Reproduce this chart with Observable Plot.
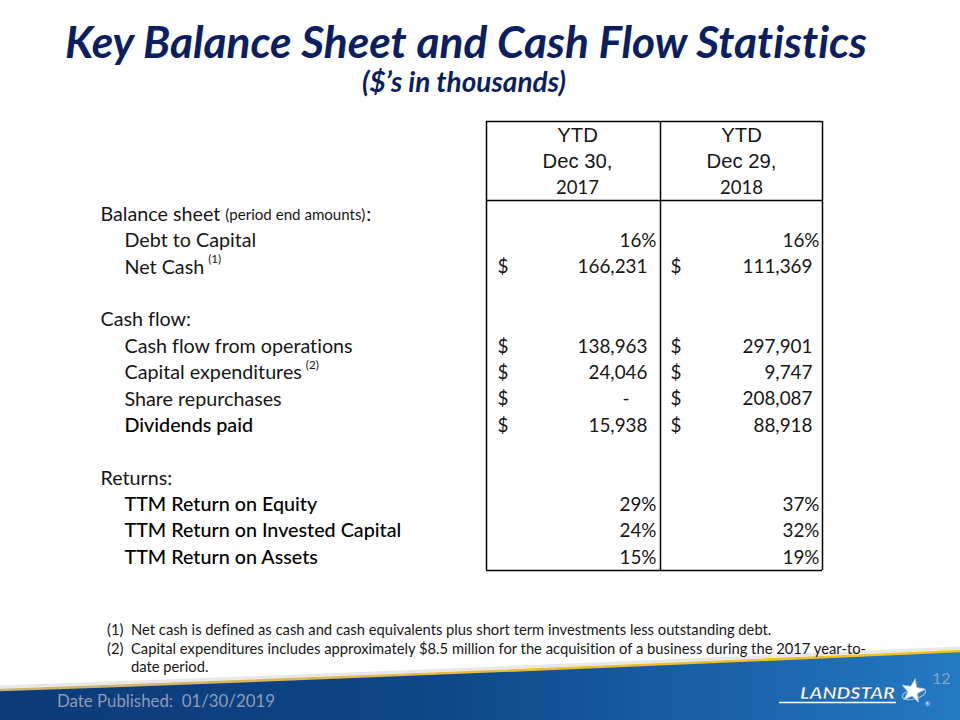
<!DOCTYPE html>
<html><head><meta charset="utf-8">
<script src="https://cdn.jsdelivr.net/npm/d3@7"></script>
<script src="https://cdn.jsdelivr.net/npm/@observablehq/plot@0.6"></script>
<style>
html,body{margin:0;padding:0;background:#fff;}
#slide{position:relative;width:960px;height:720px;overflow:hidden;background:#fff;}
#slide text{white-space:pre;}
</style></head><body>
<div id="slide"></div>
<script>
// ---------------- DATA ----------------
const title = "Key Balance Sheet and Cash Flow Statistics";
const subtitle = "($’s in thousands)";
const columnHeaders = [["YTD", "Dec 30,", "2017"], ["YTD", "Dec 29,", "2018"]];
const rowLabels = ["Balance sheet", "Debt to Capital", "Net Cash", "", "Cash flow:", "Cash flow from operations",
  "Capital expenditures", "Share repurchases", "Dividends paid", "", "Returns:", "TTM Return on Equity",
  "TTM Return on Invested Capital", "TTM Return on Assets"];
const rowLevel = [0, 1, 1, 0, 0, 1, 1, 1, 1, 0, 0, 1, 1, 1];
const rowQualifier = ["(period end amounts)", "", "", "", "", "", "", "", "", "", "", "", "", ""];
const rowNotes = ["", "", "(1)", "", "", "", "(2)", "", "", "", "", "", "", ""];
const rowKind = ["head", "pct", "usd", "blank", "head", "usd", "usd", "usd", "usd", "blank", "head", "pct", "pct", "pct"];
const values2017 = [null, 0.16, 166231, null, null, 138963, 24046, 0, 15938, null, null, 0.29, 0.24, 0.15];
const values2018 = [null, 0.16, 111369, null, null, 297901, 9747, 208087, 88918, null, null, 0.37, 0.32, 0.19];
const footnoteMarks = ["(1)", "(2)", ""];
const footnoteLines = [
  "Net cash is defined as cash and cash equivalents plus short term investments less outstanding debt.",
  "Capital expenditures includes approximately $8.5 million for the acquisition of a business during the 2017 year-to-",
  "date period."
];
const datePublished = "Date Published:  01/30/2019";
const pageNumber = "12";
const logoText = "LANDSTAR";

// ---------------- LAYOUT / STYLE ----------------
const NAVY = "#0b1f60";
const INK = "#161616";
const LF = "Lato";
const L = {
  label: [100, 124], box: [486, 660, 822], colCenter: [577, 741],
  dollar: [497, 670], usdEnd: [647, 812], pctEnd: [656, 819], dashEnd: [629, 794],
  rowTop: -0.53, headerLine: 2.46, rowBottom: 16.49
};
const emphasized = new Set(["Dividends paid", "TTM Return on Equity", "TTM Return on Invested Capital", "TTM Return on Assets"]);

const ctx = document.createElement("canvas").getContext("2d");
const measure = (t, font) => { ctx.font = font; return ctx.measureText(t).width; };
const fitSize = (t, ws, fam, target) => 100 * target / measure(t, `${ws} 100px ${fam}`);

const labelSize = fitSize("Cash flow from operations", "normal", LF, 229);
const valueSize = fitSize("166,231", "normal", LF, 70);
const qualSize = fitSize("(period end amounts)", "normal", LF, 140);
const noteSize = fitSize("(1)", "normal", LF, 13);
const hdrArialSize = fitSize("Dec 30,", "normal", "Liberation Sans", 70);
const hdrYearSize = fitSize("2017", "normal", LF, 43);
const titleSize = fitSize(title, "italic bold", LF, 803);
const subSize = fitSize(subtitle, "italic bold", LF, 204);
const footSize = fitSize(footnoteLines[1], "normal", LF, 737);
const dateSize = fitSize(datePublished, "normal", LF, 218);

const slide = document.getElementById("slide");

// ---------------- BACKGROUND, TITLE, FOOTNOTES ----------------
const bg = d3.select(slide).append("svg").attr("width", 960).attr("height", 720)
  .style("position", "absolute").style("left", 0).style("top", 0);
const txt = (x, y, font, fill, t) => bg.append("text").attr("x", x).attr("y", y)
  .style("font", font).style("font-variant-ligatures", "none").style("white-space", "pre").attr("fill", fill).text(t);
const defs = bg.append("defs");
const gb = defs.append("linearGradient").attr("id", "band").attr("x1", 0).attr("x2", 1).attr("y1", 0).attr("y2", 0);
gb.append("stop").attr("offset", 0).attr("stop-color", "#0c3a78");
gb.append("stop").attr("offset", 0.45).attr("stop-color", "#0e4688");
gb.append("stop").attr("offset", 1).attr("stop-color", "#2379c2");
const gg = defs.append("linearGradient").attr("id", "gold").attr("x1", 0).attr("x2", 1).attr("y1", 0).attr("y2", 0);
gg.append("stop").attr("offset", 0).attr("stop-color", "#c9b27a");
gg.append("stop").attr("offset", 0.5).attr("stop-color", "#e7bd35");
gg.append("stop").attr("offset", 1).attr("stop-color", "#f5c316");

const edge = "M0,690 Q480,673 960,651";
bg.append("path").attr("d", edge + " L960,720 L0,720 Z").attr("fill", "url(#band)");
bg.append("path").attr("d", "M0,687 Q480,670 960,648").attr("fill", "none").attr("stroke", "#cfcfcf").attr("stroke-width", 3).attr("opacity", 0.5);
bg.append("path").attr("d", edge).attr("fill", "none").attr("stroke", "url(#gold)").attr("stroke-width", 2.6);

txt(466, 58, `italic bold ${titleSize}px ${LF}`, NAVY, title).attr("text-anchor", "middle");
txt(464, 92, `italic bold ${subSize}px ${LF}`, NAVY, subtitle).attr("text-anchor", "middle");

const footY = [635, 654, 672];
footnoteLines.forEach((t, i) => {
  if (footnoteMarks[i]) txt(107, footY[i], `${footSize}px ${LF}`, INK, footnoteMarks[i]);
  txt(131, footY[i], `${footSize}px ${LF}`, INK, t);
});

txt(57, 707, `${dateSize}px ${LF}`, "#8d9cb6", datePublished);
txt(932, 684, `16px ${LF}`, "#8aa3c6", pageNumber);

// logo
txt(800, 699, `italic 900 16px ${LF}`, "#fff", logoText)
  .attr("stroke", "#0d4a90").attr("stroke-width", 0.4)
  .attr("textLength", 95).attr("lengthAdjust", "spacingAndGlyphs");
bg.append("line").attr("x1", 779).attr("x2", 896).attr("y1", 702.5).attr("y2", 702.5).attr("stroke", "#fff").attr("stroke-width", 1.6);
bg.append("ellipse").attr("cx", 914).attr("cy", 694).attr("rx", 12).attr("ry", 5).attr("fill", "none")
  .attr("stroke", "#9cbde3").attr("stroke-width", 1.1).attr("transform", "rotate(-15,914,694)");
const starPts = d3.range(10).map(k => {
  const r = k % 2 ? 5.2 : 12.5, a = -Math.PI / 2 + k * Math.PI / 5 + 0.18;
  return [913 + r * Math.cos(a), 691 + r * Math.sin(a)];
});
bg.append("polygon").attr("points", starPts.map(p => p.join(",")).join(" ")).attr("fill", "#fff").attr("stroke", "#9fc0e6").attr("stroke-width", 0.8);
txt(925, 706, `6px ${LF}`, "#fff", "®");

// ---------------- TABLE (Observable Plot) ----------------
const rows = rowLabels.map((label, i) => ({
  label, level: rowLevel[i], qual: rowQualifier[i], note: rowNotes[i], kind: rowKind[i],
  v: [values2017[i], values2018[i]], idx: i + 3
}));
const labelFont = `${labelSize}px ${LF}`;
const labelX = r => L.label[r.level];
const headerCells = columnHeaders.flatMap((lines, c) => lines.map((t, r) => ({t, r, c})));
const cells = rows.flatMap(r => (r.kind === "usd" || r.kind === "pct") ? [0, 1].map(c => ({idx: r.idx, c, kind: r.kind, value: r.v[c]})) : []);
const fmtUsd = d3.format(",");
const fmtPct = d3.format(".0%");
const cellText = d => d.kind === "pct" ? fmtPct(d.value) : (d.value === 0 ? "-" : fmtUsd(d.value));
const cellX = d => d.kind === "pct" ? L.pctEnd[d.c] : (d.value === 0 ? L.dashEnd[d.c] : L.usdEnd[d.c]);
const qualRows = rows.filter(r => r.qual);
const noteRows = rows.filter(r => r.note);

const chart = Plot.plot({
  width: 960, height: 720, margin: 0,
  x: {type: "linear", domain: [0, 960], range: [0, 960], axis: null},
  y: {type: "linear", domain: [0, 16], range: [135, 557], axis: null},
  style: {background: "transparent", color: INK, fontFamily: LF, fontVariantLigatures: "none"},
  marks: [
    Plot.ruleX(L.box, {y1: L.rowTop, y2: L.rowBottom, stroke: "#000", strokeWidth: 1.5}),
    Plot.ruleY([L.rowTop, L.headerLine, L.rowBottom], {x1: L.box[0], x2: L.box[2], stroke: "#000", strokeWidth: 1.5}),
    Plot.text(headerCells.filter(d => d.r < 2), {x: d => L.colCenter[d.c], y: "r", text: "t", fontFamily: "Liberation Sans", fontSize: hdrArialSize, fill: INK}),
    Plot.text(headerCells.filter(d => d.r === 2), {x: d => L.colCenter[d.c], y: "r", text: "t", fontFamily: LF, fontSize: hdrYearSize, fill: INK}),
    Plot.text(rows.filter(r => r.label && !emphasized.has(r.label)), {x: labelX, y: "idx", text: "label", textAnchor: "start", fontSize: labelSize, fill: INK}),
    Plot.text(rows.filter(r => emphasized.has(r.label)), {x: labelX, y: "idx", text: "label", textAnchor: "start", fontSize: labelSize, fontWeight: 500, fill: "#000"}),
    Plot.text(qualRows, {x: r => labelX(r) + measure(r.label + " ", labelFont), y: "idx", text: "qual", textAnchor: "start", fontSize: qualSize, fill: INK, dy: 1}),
    Plot.text(qualRows, {x: r => labelX(r) + measure(r.label + " ", labelFont) + measure(r.qual, `${qualSize}px ${LF}`) + 1, y: "idx", text: () => ":", textAnchor: "start", fontSize: labelSize, fill: INK}),
    Plot.text(noteRows, {x: r => labelX(r) + measure(r.label + " ", labelFont) - 1, y: "idx", text: "note", textAnchor: "start", fontSize: noteSize, dy: -8, fill: INK}),
    Plot.text(cells.filter(d => d.kind === "usd"), {x: d => L.dollar[d.c], y: "idx", text: () => "$", textAnchor: "start", fontSize: valueSize, fill: INK}),
    Plot.text(cells, {x: cellX, y: "idx", text: cellText, textAnchor: "end", fontSize: valueSize, fill: INK})
  ]
});
chart.style.position = "absolute";
chart.style.left = "0px";
chart.style.top = "0px";
slide.appendChild(chart);
</script>
</body></html>
